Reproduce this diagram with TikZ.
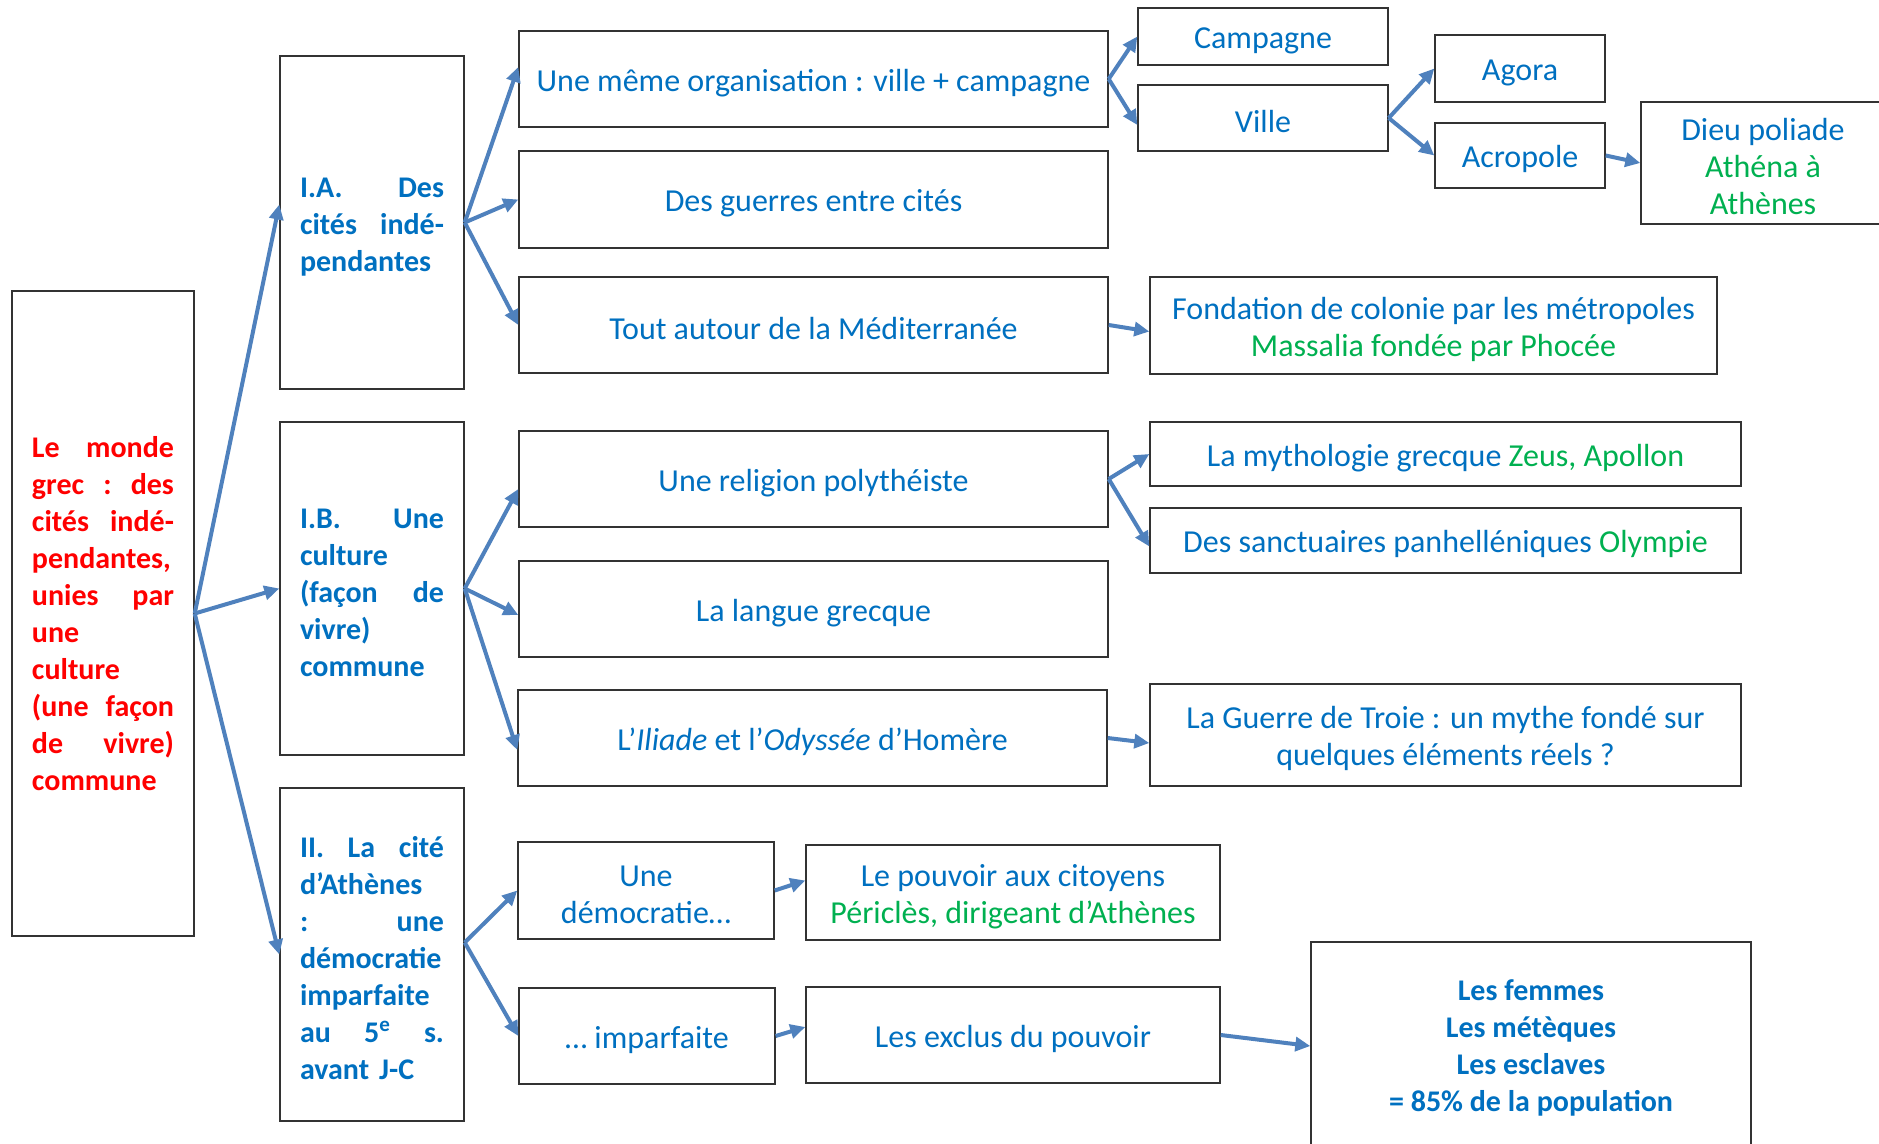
\documentclass[tikz,border=0pt]{standalone}
\usepackage{fontspec}
\setmainfont{Carlito}
\usetikzlibrary{arrows.meta}
\definecolor{txtblue}{HTML}{0070C0}
\definecolor{txtred}{HTML}{FF0000}
\definecolor{txtgreen}{HTML}{00B050}
\definecolor{arrowblue}{HTML}{4F81BD}
\newcommand{\grn}[1]{\textcolor{txtgreen}{#1}}
\hyphenpenalty=10000

\begin{document}
\begin{tikzpicture}[x=0.5pt,y=-0.5pt,
    frame/.style ={draw=black!80, line width=0.7pt, inner sep=0pt, text=txtblue},
    box/.style ={frame, align=flush center, font=\fontsize{16}{18.5}\selectfont,
                 execute at begin node={\rule{0pt}{15pt}}},
    part/.style ={frame, align=left, text width=72pt, minimum width=92pt, minimum height=166.5pt,
                 font=\bfseries\fontsize{15}{18.5}\selectfont, execute at begin node={\rule{0pt}{14pt}}},
    link/.style ={draw=arrowblue, line width=2pt, -{Triangle[length=7.5pt,width=7pt]}}]
   \clip (0,0) rectangle (1879,1144);
   \node[frame, align=left, text=txtred, text width=71pt, minimum width=91pt, minimum height=322.5pt,
     font=\bfseries\fontsize{15}{18.5}\selectfont] (monde) at (103,613.5)
     {Le\hfill monde\\ grec\hfill :\hfill des\\ cités\hfill indé-\\ pendantes,\\ unies\hfill par\\ une\\ culture\\ (une\hfill façon\\ de\hfill vivre)\\ commune};
   \node[part] (IA) at (372,222.5) {I.A.\hfill Des\\ cités\hfill indé-\\ pendantes};
   \node[part] (IB) at (372,588.5) {I.B.\hfill Une\\ culture\\ (façon\hfill de\\ vivre)\\ commune};
   \node[part] (II) at (372,954.5) {II.\hfill La\hfill cité\\ d’Athènes\\ :\hfill une\\ démocratie\\ imparfaite\\ au\hfill 5\textsuperscript{e}\hfill s.\\ avant J-C};

   \node[box, minimum width=294.5pt, minimum height=48pt] (orga) at (813.5,79) {Une même organisation : ville + campagne};
   \node[box, minimum width=294.5pt, minimum height=48.5pt] (guerres) at (813.5,199.5) {Des guerres entre cités};
   \node[box, minimum width=294.5pt, minimum height=48pt] (tout) at (813.5,325) {Tout autour de la Méditerranée};
   \node[box, minimum width=294.5pt, minimum height=48pt] (religion) at (813.5,479) {Une religion polythéiste};
   \node[box, minimum width=294.5pt, minimum height=48pt] (langue) at (813.5,609) {La langue grecque};
   \node[box, minimum width=294.5pt, minimum height=48pt] (iliade) at (812.5,738) {L’\textit{Iliade} et l’\textit{Odyssée} d’Homère};
   \node[box, text width=120pt, minimum width=128pt, minimum height=48.5pt] (demo) at (646,890.5) {Une\\ démocratie…};
   \node[box, minimum width=128pt, minimum height=48pt] (impar) at (647,1036) {… imparfaite};

   \node[box, minimum width=125pt, minimum height=28.5pt] (campagne) at (1263,36.5) {Campagne};
   \node[box, minimum width=125pt, minimum height=33pt] (ville) at (1263,118) {Ville};
   \node[box, minimum width=85pt, minimum height=33.5pt] (agora) at (1520,68.5) {Agora};
   \node[box, minimum width=85pt, minimum height=32.5pt] (acropole) at (1520,155.5) {Acropole};
   \node[box, text width=118pt, minimum width=122pt, minimum height=61pt] (dieu) at (1763,163)
     {Dieu poliade\\ \grn{Athéna à}\\ \grn{Athènes}};
   \node[box, text width=278pt, minimum width=283.5pt, minimum height=48.5pt] (fondation) at (1433.5,325.5)
     {Fondation de colonie par les métropoles\\ \grn{Massalia fondée par Phocée}};
   \node[box, minimum width=295.5pt, minimum height=32pt] (mytho) at (1445.5,454) {La mythologie grecque \grn{Zeus, Apollon}};
   \node[box, minimum width=295.5pt, minimum height=32.5pt] (sanct) at (1445.5,540.5) {Des sanctuaires panhelléniques \grn{Olympie}};
   \node[box, text width=290pt, minimum width=295.5pt, minimum height=51pt] (troie) at (1445.5,735)
     {La Guerre de Troie : un mythe fondé sur\\ quelques éléments réels ?};
   \node[box, text width=202pt, minimum width=207pt, minimum height=47.5pt] (pouvoir) at (1013,892.5)
     {Le pouvoir aux citoyens\\ \grn{Périclès, dirigeant d’Athènes}};
   \node[box, minimum width=207pt, minimum height=48pt] (exclus) at (1013,1035) {Les exclus du pouvoir};
   \node[frame, align=flush center, text width=215pt, minimum width=220pt, minimum height=104pt,
     font=\bfseries\fontsize{15}{18.5}\selectfont, execute at begin node={\rule{0pt}{12.5pt}}] (femmes) at (1531,1046)
     {Les femmes\\ Les métèques\\ Les esclaves\\ = 85\% de la population};

   \draw[link] (monde.east) -- ([yshift=9pt]IA.west);
   \draw[link] (monde.east) -- (IB.west);
   \draw[link] (monde.east) -- (II.west);
   \draw[link] (IA.east) -- ([yshift=6pt]orga.west);
   \draw[link] (IA.east) -- (guerres.west);
   \draw[link] (IA.east) -- (tout.west);
   \draw[link] (IB.east) -- ([yshift=-5pt]religion.west);
   \draw[link] (IB.east) -- ([yshift=-3pt]langue.west);
   \draw[link] (IB.east) -- ([yshift=-6pt]iliade.west);
   \draw[link] ([yshift=6pt]II.east) -- (demo.west);
   \draw[link] ([yshift=6pt]II.east) -- (impar.west);
   \draw[link] (orga.east) -- (campagne.west);
   \draw[link] (orga.east) -- ([yshift=-3.5pt]ville.west);
   \draw[link] (ville.east) -- (agora.west);
   \draw[link] (ville.east) -- (acropole.west);
   \draw[link] (acropole.east) -- (dieu.west);
   \draw[link] (tout.east) -- ([yshift=-3pt]fondation.west);
   \draw[link] (religion.east) -- (mytho.west);
   \draw[link] (religion.east) -- ([yshift=-3pt]sanct.west);
   \draw[link] (iliade.east) -- ([yshift=-4pt]troie.west);
   \draw[link] (demo.east) -- ([yshift=6pt]pouvoir.west);
   \draw[link] (impar.east) -- ([yshift=4pt]exclus.west);
   \draw[link] (exclus.east) -- (femmes.west);
 \end{tikzpicture}
\end{document}
